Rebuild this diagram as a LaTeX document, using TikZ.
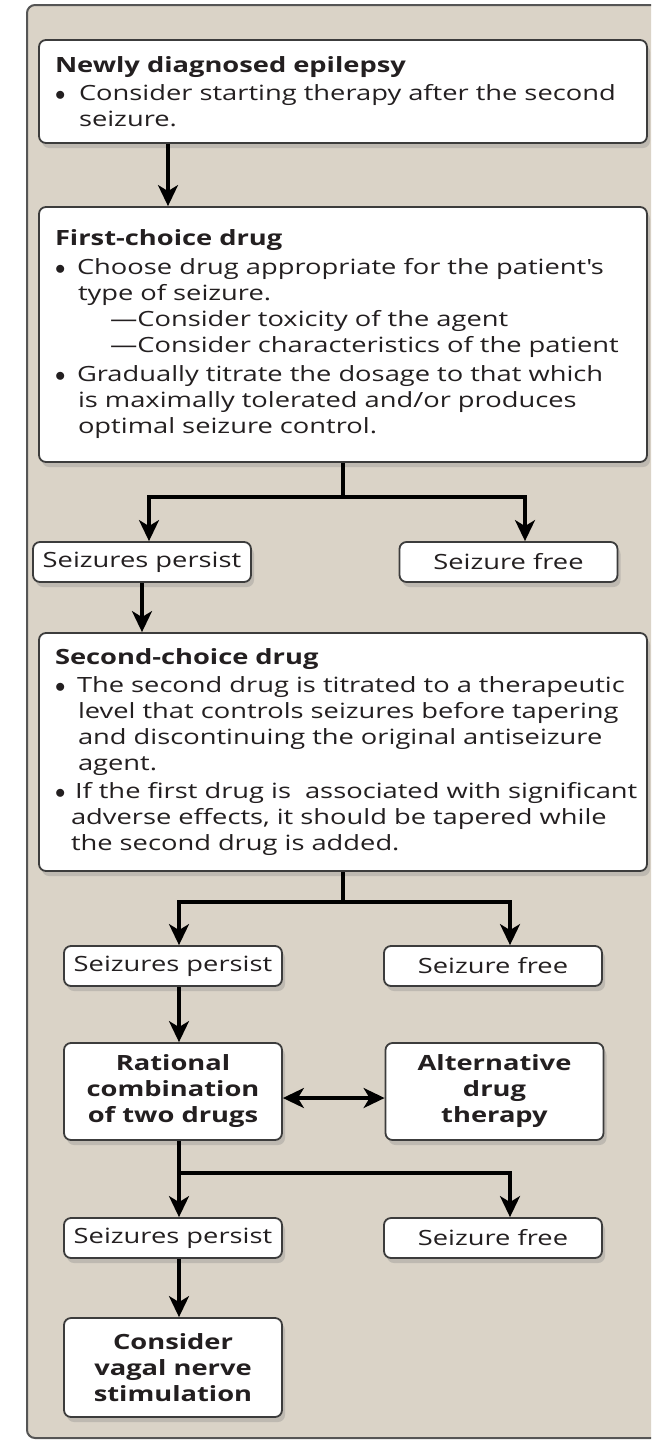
\documentclass[tikz,border=0pt]{standalone}
\usepackage{fontspec}
\setmainfont{Open Sans}[FakeStretch=1.3]
\usetikzlibrary{arrows.meta,shadows}
\definecolor{panelbg}{RGB}{218,211,199}
\definecolor{panelline}{RGB}{85,85,85}
\definecolor{boxline}{RGB}{60,60,60}
\definecolor{ink}{RGB}{35,31,32}
\newcommand{\bul}{$\bullet$}
\begin{document}
\begin{tikzpicture}[x=1pt,y=-1pt,
  >={Stealth[length=21pt,width=20pt,inset=6pt]},
  line width=3.3pt,
  every node/.style={text=ink},
  box/.style={draw=boxline,line width=1.8pt,fill=white,rounded corners=7pt,
    drop shadow={shadow xshift=3pt,shadow yshift=-5pt,opacity=0.3}},
  bigbox/.style={box,text width=576pt,inner xsep=16pt,inner ysep=4pt,align=left,
    font=\fontsize{21}{26}\selectfont},
  smallbox/.style={box,minimum width=218pt,minimum height=40pt,inner sep=2pt,
    font=\fontsize{21}{26}\selectfont},
  boldbox/.style={smallbox,align=center,font=\fontsize{21}{26}\selectfont\bfseries}]
\clip (0,0) rectangle (651,1440);
\draw[line width=2pt,draw=panelline,fill=panelbg,rounded corners=8pt] (27,5) rectangle (700,1438);

% first box
\node[bigbox,minimum height=103pt] at (343,91.5) (1) {{\bfseries Newly diagnosed epilepsy}\\[2pt]
\makebox[24pt][l]{\bul}Consider starting therapy after the second\\
\hspace*{24pt}seizure.};

\node[bigbox,minimum height=255pt] at (343,334.5) (2) {{\bfseries First-choice drug}\\[3pt]
\makebox[22pt][l]{\bul}Choose drug appropriate for the patient\textquotesingle s\\
\hspace*{23pt}type of seizure.\\
\hspace*{55pt}---Consider toxicity of the agent\\
\hspace*{55pt}---Consider characteristics of the patient\\[3pt]
\makebox[22pt][l]{\bul}Gradually titrate the dosage to that which\\
\hspace*{23pt}is maximally tolerated and/or produces\\
\hspace*{23pt}optimal seizure control.};

\node[smallbox] at (142,562) (3) {Seizures persist};
\node[smallbox] at (508.5,562) (4) {Seizure free};

\node[bigbox,minimum height=238pt] at (343,752) (5) {{\bfseries Second-choice drug}\\[2pt]
\makebox[22pt][l]{\bul}The second drug is titrated to a therapeutic\\
\hspace*{23pt}level that controls seizures before tapering\\
\hspace*{23pt}and discontinuing the original antiseizure\\
\hspace*{23pt}agent.\\[2pt]
\mbox{\makebox[20pt][l]{\bul}If the first drug is\ \ associated with significant}\\
\hspace*{16pt}adverse effects, it should be tapered while\\
\hspace*{16pt}the second drug is added.};

\node[smallbox] at (173,966) (6) {Seizures persist};
\node[smallbox] at (493,966) (7) {Seizure free};

\node[boldbox,minimum height=97pt] at (173,1091.5) (8) {Rational\\combination\\of two drugs};
\node[boldbox,minimum height=97pt] at (494.5,1091.5) (9) {Alternative\\drug\\therapy};

\node[smallbox] at (173,1238) (10) {Seizures persist};
\node[smallbox] at (493,1238) (11) {Seizure free};

\node[boldbox,minimum height=99pt] at (173,1367.5) (12) {Consider\\vagal nerve\\stimulation};

% connectors
\coordinate (a1) at (168,0);
\coordinate (l1) at (149,0);
\coordinate (r1) at (525,0);
\coordinate (l2) at (179,0);
\coordinate (r2) at (510,0);

\draw[->] (1.south -| a1) -- (2.north -| a1);

\coordinate (b1) at (343,497);
\draw (2.south) -- (b1);
\draw[->] (b1) -| (3.north -| l1);
\draw[->] (b1) -| (4.north -| r1);
\draw[->] (3.south) -- (3.south |- 5.north);

\coordinate (b2) at (343,902);
\draw (5.south) -- (b2);
\draw[->] (b2) -| (6.north -| l2);
\draw[->] (b2) -| (7.north -| r2);
\draw[->] (6.south -| l2) -- (8.north -| l2);
\draw[<->] ([yshift=-6.5pt]8.east) -- ([yshift=-6.5pt]9.west);

\coordinate (b3) at (179,1173);
\draw (8.south -| l2) -- (b3);
\draw[->] (b3) -- (10.north -| l2);
\draw[->] (b3) -| (11.north -| r2);
\draw[->] (10.south -| l2) -- (12.north -| l2);

\end{tikzpicture}
\end{document}
